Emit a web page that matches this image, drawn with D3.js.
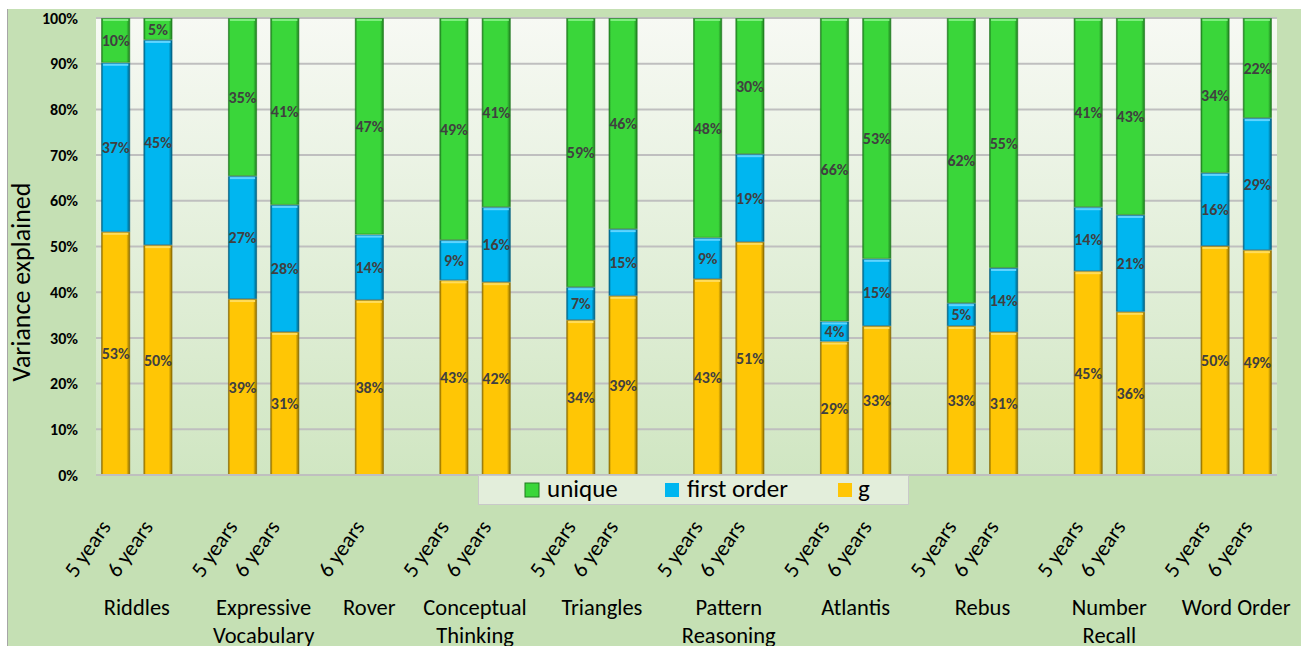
<!DOCTYPE html>
<html>
<head>
<meta charset="utf-8">
<script src="https://d3js.org/d3.v7.min.js"></script>
<style>
	body { margin: 0; background: #ffffff; }
	svg { display: block; font-family: Carlito, Lato, "Open Sans", sans-serif; }
</style>
</head>
<body>
<div id="chart"></div>
<script>
// tests, each with its age groups (Rover has only the 6 year group)
var groups = ["Riddles", "Expressive\nVocabulary", "Rover", "Conceptual\nThinking", "Triangles",
	"Pattern\nReasoning", "Atlantis", "Rebus", "Number\nRecall", "Word Order"];
var ages = [
	["5 years", "6 years"], ["5 years", "6 years"], ["6 years"], ["5 years", "6 years"], ["5 years", "6 years"],
	["5 years", "6 years"], ["5 years", "6 years"], ["5 years", "6 years"], ["5 years", "6 years"], ["5 years", "6 years"]
];

// share of variance, one entry per bar in the order above (percent)
var gValues = [53.2, 50.3, 38.5, 31.3, 38.3, 42.6, 42.2, 33.9, 39.2, 42.9, 51.0, 29.2, 32.6, 32.6, 31.3, 44.6, 35.7, 50.1, 49.2];
var firstOrder = [37.0, 44.9, 26.9, 27.8, 14.3, 8.8, 16.4, 7.2, 14.6, 9.0, 19.2, 4.4, 14.7, 5.0, 14.0, 14.0, 21.2, 16.0, 28.9];
var unique = [9.8, 4.8, 34.6, 40.9, 47.4, 48.6, 41.4, 58.9, 46.2, 48.1, 29.8, 66.4, 52.7, 62.4, 54.7, 41.4, 43.1, 33.9, 21.9];

var yTicks = [0, 10, 20, 30, 40, 50, 60, 70, 80, 90, 100];
var seriesNames = ["g", "first order", "unique"];
var legendOrder = ["unique", "first order", "g"];

var colors = {
	"g": { fill: "#ffc605", light: "#ffdc5a", dark: "#8a6a00" },
	"first order": { fill: "#00b6f0", light: "#5fd4ff", dark: "#005f80" },
	"unique": { fill: "#3ad63a", light: "#7cee7c", dark: "#1f7a1f" }
};

var width = 1301, height = 646;
var plot = { left: 96, right: 1277, top: 18, bottom: 475 };

// build the slots: bars plus one empty slot between tests
var slots = [];
var bars = [];
var k = 0;
groups.forEach(function (grp, gi) {
	ages[gi].forEach(function (age) {
		var id = "b" + k;
		slots.push(id);
		bars.push({ id: id, group: gi, age: age, g: gValues[k], fo: firstOrder[k], u: unique[k] });
		k++;
	});
	if (gi < groups.length - 1) slots.push("gap" + gi);
});

var svg = d3.select("#chart")
	.append("svg")
	.attr("width", width)
	.attr("height", height);

var defs = svg.append("defs");

var bg = defs.append("linearGradient")
	.attr("id", "plotbg")
	.attr("x1", 0).attr("y1", 0).attr("x2", 0).attr("y2", 1);
bg.append("stop").attr("offset", "0%").attr("stop-color", "#f7f9f4");
bg.append("stop").attr("offset", "100%").attr("stop-color", "#d0e6c2");

seriesNames.forEach(function (s, i) {
	var c = colors[s];
	var gr = defs.append("linearGradient")
		.attr("id", "bar" + i)
		.attr("x1", 0).attr("y1", 0).attr("x2", 1).attr("y2", 0);
	gr.append("stop").attr("offset", "0%").attr("stop-color", c.dark);
	gr.append("stop").attr("offset", "7%").attr("stop-color", c.fill);
	gr.append("stop").attr("offset", "88%").attr("stop-color", c.fill);
	gr.append("stop").attr("offset", "100%").attr("stop-color", c.dark);
});

// chart area
svg.append("rect")
	.attr("x", 7)
	.attr("y", 9)
	.attr("width", width - 7)
	.attr("height", height - 9)
	.attr("fill", "#c5e0b4");
svg.append("line")
	.attr("x1", 7.5).attr("x2", 7.5)
	.attr("y1", 9).attr("y2", height)
	.attr("stroke", "#a6a6a6");

svg.append("rect")
	.attr("x", plot.left)
	.attr("y", plot.top)
	.attr("width", plot.right - plot.left)
	.attr("height", plot.bottom - plot.top)
	.attr("fill", "url(#plotbg)");

var x = d3.scaleBand()
	.domain(slots)
	.range([plot.left, plot.right])
	.paddingInner(0.31)
	.paddingOuter(0.12);

var y = d3.scaleLinear()
	.domain([0, 100])
	.range([plot.bottom, plot.top]);

// gridlines
svg.append("g")
	.selectAll("line")
	.data(yTicks)
	.enter()
	.append("line")
	.attr("x1", plot.left)
	.attr("x2", plot.right)
	.attr("y1", function (d) { return y(d); })
	.attr("y2", function (d) { return y(d); })
	.attr("stroke", "#bfbfbf")
	.attr("stroke-width", 2);

// y axis
var yAxis = svg.append("g")
	.attr("transform", "translate(" + (plot.left - 15) + ",0)")
	.call(d3.axisLeft(y).tickValues(yTicks).tickSize(0).tickFormat(function (d) { return d + "%"; }));
yAxis.select(".domain").remove();
yAxis.selectAll("text")
	.attr("font-family", "Carlito, Lato, sans-serif")
	.attr("font-size", 16)
	.attr("font-weight", "bold")
	.attr("fill", "#000000");

svg.append("text")
	.attr("transform", "translate(30,282) rotate(-90)")
	.attr("text-anchor", "middle")
	.attr("font-size", 26)
	.attr("fill", "#000000")
	.text("Variance explained");

// stacked segments
var stack = d3.stack()
	.keys(["g", "fo", "u"]);
var stacked = stack(bars);

var layer = svg.selectAll(".layer")
	.data(stacked)
	.enter()
	.append("g")
	.attr("class", "layer");

layer.selectAll("rect.seg")
	.data(function (d, i) {
		return d.map(function (p) { return { p: p, s: i }; });
	})
	.enter()
	.append("rect")
	.attr("class", "seg")
	.attr("x", function (d) { return x(d.p.data.id) + 0.5; })
	.attr("y", function (d) { return y(d.p[1]) + 0.5; })
	.attr("width", x.bandwidth() - 1)
	.attr("height", function (d) { return y(d.p[0]) - y(d.p[1]) - 1; })
	.attr("fill", function (d) { return "url(#bar" + d.s + ")"; })
	.attr("stroke", function (d) { return colors[seriesNames[d.s]].dark; })
	.attr("stroke-opacity", 0.6);

// top highlight of each segment
layer.selectAll("rect.hl")
	.data(function (d, i) {
		return d.map(function (p) { return { p: p, s: i }; });
	})
	.enter()
	.append("rect")
	.attr("class", "hl")
	.attr("x", function (d) { return x(d.p.data.id) + 2; })
	.attr("y", function (d) { return y(d.p[1]) + 1; })
	.attr("width", x.bandwidth() - 4)
	.attr("height", 2)
	.attr("fill", function (d) { return colors[seriesNames[d.s]].light; });

// data labels
layer.selectAll("text")
	.data(function (d) { return d; })
	.enter()
	.append("text")
	.attr("x", function (d) { return x(d.data.id) + x.bandwidth() / 2; })
	.attr("y", function (d) { return (y(d[0]) + y(d[1])) / 2; })
	.attr("dy", "0.35em")
	.attr("text-anchor", "middle")
	.attr("font-size", 16)
	.attr("font-weight", "bold")
	.attr("fill", "#404040")
	.text(function (d) { return Math.round(d[1] - d[0]) + "%"; });

// axis base line
svg.append("line")
	.attr("x1", plot.left)
	.attr("x2", plot.right)
	.attr("y1", y(0))
	.attr("y2", y(0))
	.attr("stroke", "#bfbfbf")
	.attr("stroke-width", 2);

// age labels
svg.append("g")
	.selectAll("text")
	.data(bars)
	.enter()
	.append("text")
	.attr("transform", function (d) {
		return "translate(" + (x(d.id) + x.bandwidth() / 2 - 4) + ",527) rotate(-55)";
	})
	.attr("text-anchor", "end")
	.attr("font-size", 22)
	.attr("fill", "#000000")
	.text(function (d) { return d.age; });

// test labels
var groupLabels = svg.append("g")
	.selectAll("text")
	.data(groups)
	.enter()
	.append("text")
	.attr("x", function (d, i) {
		var own = bars.filter(function (b) { return b.group === i; });
		var a = x(own[0].id), b = x(own[own.length - 1].id);
		return (a + b) / 2 + x.bandwidth() / 2;
	})
	.attr("y", 615)
	.attr("text-anchor", "middle")
	.attr("font-size", 22.5)
	.attr("fill", "#000000");

groupLabels.each(function (d) {
	var t = d3.select(this);
	d.split("\n").forEach(function (line, li) {
		t.append("tspan")
			.attr("x", t.attr("x"))
			.attr("dy", li === 0 ? 0 : 28)
			.text(line);
	});
});

// legend
var legend = svg.append("g");
legend.append("rect")
	.attr("x", 478.5)
	.attr("y", 475.5)
	.attr("width", 430)
	.attr("height", 29)
	.attr("fill", "#e3eedb")
	.attr("stroke", "#c9c9c9");

var legendX = [525, 665, 838];
var item = legend.selectAll(".item")
	.data(legendOrder)
	.enter()
	.append("g")
	.attr("class", "item")
	.attr("transform", function (d, i) { return "translate(" + legendX[i] + ",483)"; });

item.append("rect")
	.attr("width", 14)
	.attr("height", 14)
	.attr("fill", function (d) { return colors[d].fill; })
	.attr("stroke", function (d) { return d === "unique" ? colors[d].dark : "none"; });

item.append("text")
	.attr("x", function (d) { return d === "g" ? 20 : 22; })
	.attr("y", 14)
	.attr("font-size", 25)
	.attr("fill", "#000000")
	.text(function (d) { return d; });
</script>
</body>
</html>
